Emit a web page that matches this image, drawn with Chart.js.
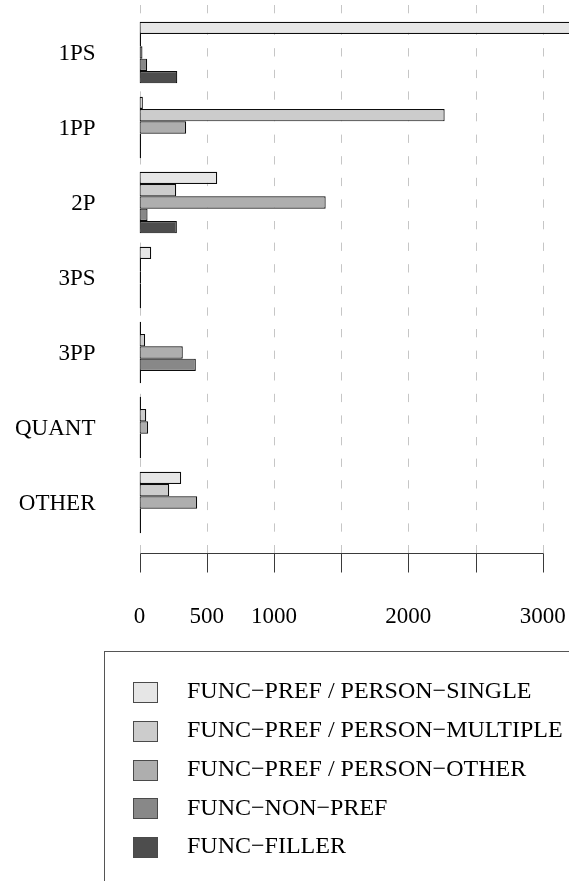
<!DOCTYPE html>
<html>
<head>
<meta charset="utf-8">
<script src="https://cdn.jsdelivr.net/npm/chart.js@4.4.1/dist/chart.umd.min.js"></script>
<style>
    html, body { margin: 0; padding: 0; background: #ffffff; }
    #wrap { position: relative; width: 569px; height: 881px; }
</style>
</head>
<body>
<div id="wrap"><canvas id="funcChart"></canvas></div>
<script>
// ============================================
// DATA
// ============================================

const categories = ["1PS", "1PP", "2P", "3PS", "3PP", "QUANT", "OTHER"];

const personSingle = [3500, 25, 578, 87, 3, 4, 310];
const personMultiple = [8, 2270, 273, 3, 42, 50, 221];
const personOther = [22, 347, 1385, 10, 322, 64, 429];
const nonPref = [57, 12, 60, 1, 419, 1, 1];
const filler = [281, 3, 278, 1, 3, 1, 4];

const seriesLabels = [
    "FUNC\u2212PREF / PERSON\u2212SINGLE",
    "FUNC\u2212PREF / PERSON\u2212MULTIPLE",
    "FUNC\u2212PREF / PERSON\u2212OTHER",
    "FUNC\u2212NON\u2212PREF",
    "FUNC\u2212FILLER",
];
const seriesColors = ["#e6e6e6", "#cccccc", "#aeaeae", "#888888", "#4d4d4d"];

const xTicks = [0, 500, 1000, 1500, 2000, 2500, 3000];
const xTickLabels = ["0", "500", "1000", "", "2000", "", "3000"];

// ============================================
// PLUGINS
// ============================================

const FONT = "'Liberation Serif', 'DejaVu Serif', serif";

// dashed vertical grid, drawn under the bars
const dashedGrid = {
    id: "dashedGrid",
    beforeDatasetsDraw(chart) {
        const { ctx, chartArea, scales } = chart;
        const top = chartArea.top - 10;
        const bottom = chartArea.bottom + 13;
        ctx.save();
        ctx.strokeStyle = "#c6c6c6";
        ctx.lineWidth = 1;
        ctx.setLineDash([8.3, 13.3]);
        xTicks.forEach((v) => {
            const x = Math.round(scales.x.getPixelForValue(v)) + 0.5;
            ctx.beginPath();
            ctx.moveTo(x, top);
            ctx.lineTo(x, bottom);
            ctx.stroke();
        });
        ctx.restore();
    },
};

// R style bottom axis: line, tick marks and labels
const bottomAxis = {
    id: "bottomAxis",
    afterDraw(chart) {
        const { ctx, chartArea, scales } = chart;
        const axisY = Math.round(chartArea.bottom + 13) + 0.5;
        const px = (v) => Math.round(scales.x.getPixelForValue(v)) + 0.5;
        ctx.save();
        ctx.strokeStyle = "#3a3a3a";
        ctx.lineWidth = 1;
        ctx.beginPath();
        ctx.moveTo(px(xTicks[0]), axisY);
        ctx.lineTo(px(xTicks[xTicks.length - 1]), axisY);
        xTicks.forEach((v) => {
            ctx.moveTo(px(v), axisY);
            ctx.lineTo(px(v), axisY + 19);
        });
        ctx.stroke();

        ctx.fillStyle = "#000000";
        ctx.font = `23px ${FONT}`;
        ctx.textAlign = "center";
        ctx.textBaseline = "middle";
        xTicks.forEach((v, i) => {
            if (xTickLabels[i]) {
                ctx.fillText(xTickLabels[i], scales.x.getPixelForValue(v), axisY + 63);
            }
        });
        ctx.restore();
    },
};

// boxed legend under the axis
const boxLegend = {
    id: "boxLegend",
    afterDraw(chart) {
        const { ctx } = chart;
        const left = 104.5;
        const top = 651.5;
        ctx.save();
        ctx.strokeStyle = "#555555";
        ctx.lineWidth = 1;
        ctx.strokeRect(left, top, 600, 400);

        ctx.font = `24px ${FONT}`;
        ctx.textAlign = "left";
        ctx.textBaseline = "middle";
        chart.data.datasets.forEach((ds, i) => {
            const cy = 692 + i * 38.8;
            ctx.fillStyle = ds.backgroundColor;
            ctx.fillRect(133.5, Math.round(cy - 10) + 0.5, 24, 20);
            ctx.strokeStyle = "#4a4a4a";
            ctx.strokeRect(133.5, Math.round(cy - 10) + 0.5, 24, 20);
            ctx.fillStyle = "#000000";
            ctx.fillText(ds.label, 187, cy);
        });
        ctx.restore();
    },
};

// ============================================
// CHART
// ============================================

function createFuncChart(element) {
    const series = [personSingle, personMultiple, personOther, nonPref, filler];
    return new Chart(element, {
        type: "bar",
        data: {
            labels: categories,
            datasets: series.map((values, i) => ({
                label: seriesLabels[i],
                data: values,
                backgroundColor: seriesColors[i],
                borderColor: "#0d0d0d",
                borderWidth: 1.2,
                borderSkipped: false,
                minBarLength: 1.5,
            })),
        },
        options: {
            indexAxis: "y",
            responsive: true,
            maintainAspectRatio: false,
            animation: false,
            layout: { padding: { top: 15, bottom: 341, left: 0, right: 0 } },
            datasets: {
                bar: { categoryPercentage: 0.822, barPercentage: 1 },
            },
            scales: {
                x: {
                    display: false,
                    min: 0,
                    max: 3195,
                },
                y: {
                    afterFit: (scale) => {
                        // fixed gutter for the labels, no extra top/bottom room
                        scale.width = 139.5;
                        scale.paddingTop = 0;
                        scale.paddingBottom = 0;
                    },
                    grid: { display: false, drawTicks: false },
                    border: { display: false },
                    ticks: {
                        color: "#000000",
                        padding: 44,
                        labelOffset: 1,
                        font: { family: FONT, size: 23 },
                    },
                },
            },
            plugins: {
                legend: { display: false },
                tooltip: { enabled: false },
            },
        },
        plugins: [dashedGrid, bottomAxis, boxLegend],
    });
}

createFuncChart(document.getElementById("funcChart"));
</script>
</body>
</html>
